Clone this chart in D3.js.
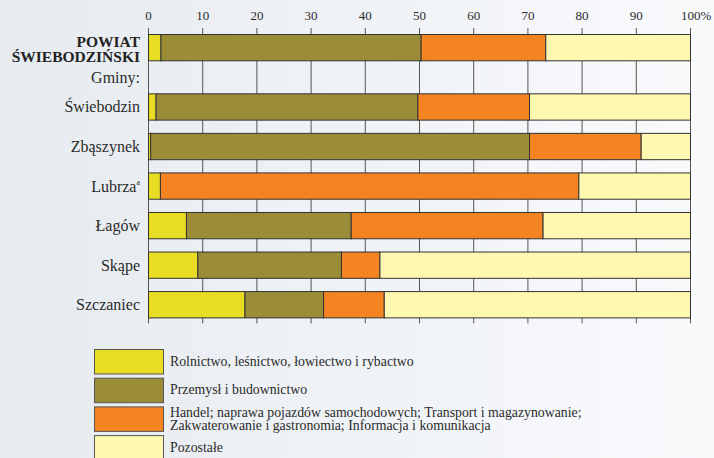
<!DOCTYPE html>
<html>
<head>
<meta charset="utf-8">
<script src="https://cdn.jsdelivr.net/npm/d3@7"></script>
<style>
html,body{margin:0;padding:0;background:#eef1f4;}
svg{display:block;}
</style>
</head>
<body>
<svg id="chart" width="714" height="458"></svg>
<script>
// ---- data ----
const categories = ["POWIAT ŚWIEBODZIŃSKI", "Świebodzin", "Zbąszynek", "Lubrza", "Łagów", "Skąpe", "Szczaniec"];
const rolnictwo = [2.3, 1.4, 0.4, 2.2, 7.0, 9.1, 17.8];
const przemysl  = [48.0, 48.3, 69.9, 0.0, 30.4, 26.5, 14.5];
const handel    = [23.0, 20.6, 20.6, 77.2, 35.4, 7.1, 11.2];
const pozostale = [26.7, 29.7, 9.1, 20.6, 27.2, 57.3, 56.5];
const tickValues = [0, 10, 20, 30, 40, 50, 60, 70, 80, 90, 100];
const seriesNames = [
  ["Rolnictwo, leśnictwo, łowiectwo i rybactwo"],
  ["Przemysł i budownictwo"],
  ["Handel; naprawa pojazdów samochodowych; Transport i magazynowanie;", "Zakwaterowanie i gastronomia; Informacja i komunikacja"],
  ["Pozostałe"]
];
const colors = ["#e8dc24", "#9b8d37", "#f38421", "#fff8b0"];
const groupLabel = "Gminy:";

const FONT = "'Liberation Serif', 'Times New Roman', Times, serif";
const TXT = "#2b2b2b";

// ---- layout ----
const svg = d3.select("#chart");
const W = 714, H = 458;
const defs = svg.append("defs");
const grad = defs.append("linearGradient").attr("id", "bg").attr("x1", 0).attr("x2", 1).attr("y1", 0).attr("y2", 0);
grad.append("stop").attr("offset", 0).attr("stop-color", "#e6ebf0");
grad.append("stop").attr("offset", 1).attr("stop-color", "#f9fafc");
svg.append("rect").attr("width", W).attr("height", H).attr("fill", "url(#bg)");

const x = d3.scaleLinear().domain([0, 100]).range([148, 690]);
const step = 39.55, pad = 0.335, topY = 34;
const y = d3.scaleBand().domain(categories)
  .range([topY, topY + step * (categories.length - pad)])
  .paddingInner(pad).paddingOuter(0);
const bw = y.bandwidth();
const rowY = (c, i) => y(c) + (i > 0 ? step * 0.5 : 0);
const gridBottom = rowY(categories[categories.length - 1], categories.length - 1) + bw + 6;

// axis + grid
const axisTopY = topY - 6;
const axis = d3.axisTop(x).tickValues(tickValues)
  .tickSize(-(gridBottom - axisTopY)).tickPadding(8)
  .tickFormat(d => String(d));
const ag = svg.append("g").attr("transform", `translate(0,${axisTopY})`).call(axis);
ag.attr("font-family", FONT).attr("font-size", 13);
ag.select(".domain").remove();
ag.selectAll(".tick line").attr("stroke", "#555").attr("stroke-width", 1);
ag.selectAll(".tick text").attr("fill", TXT).style("font-family", FONT).style("font-size", "13px");
const lastTick = ag.selectAll(".tick").filter(d => d === 100).select("text");
lastTick.append("tspan").text("%");
lastTick.attr("text-anchor", "start").attr("x", -9.5);

// bars
const series = [rolnictwo, przemysl, handel, pozostale];
const rows = categories.map((c, i) => {
  let acc = 0;
  return series.map((s, k) => {
    const seg = { cat: c, i, k, x0: acc, x1: acc + s[i] };
    acc += s[i];
    return seg;
  });
});
const bars = svg.append("g");
rows.forEach(r => {
  bars.selectAll(null).data(r.filter(d => d.x1 > d.x0)).enter().append("rect")
    .attr("x", d => x(d.x0) + 0.5)
    .attr("y", d => rowY(d.cat, d.i) + 0.5)
    .attr("width", d => x(d.x1) - x(d.x0))
    .attr("height", bw)
    .attr("fill", d => colors[d.k])
    .attr("stroke", "#333").attr("stroke-width", 1);
});

// category labels
const labels = svg.append("g").attr("text-anchor", "end").style("font-family", FONT).attr("fill", TXT);
categories.forEach((c, i) => {
  const cy = rowY(c, i) + bw / 2;
  if (i === 0) {
    const parts = c.split(" ");
    const t = labels.append("text").style("font-family", FONT).style("font-size", "15.5px").style("font-weight", "bold").attr("fill", "#222");
    t.append("tspan").attr("x", 140).attr("y", cy).text(parts[0]);
    t.append("tspan").attr("x", 140).attr("y", cy + 15).text(parts[1]);
  } else if (c === "Lubrza") {
    const t = labels.append("text").attr("x", 140).attr("y", cy + 6).style("font-family", FONT).style("font-size", "16px");
    t.append("tspan").text("Lubrza");
    t.append("tspan").style("font-size", "8px").attr("dy", -7).text("a");
  } else {
    labels.append("text").attr("x", 140).attr("y", cy + 6).style("font-family", FONT).style("font-size", "16px").text(c);
  }
});
labels.append("text").attr("x", 140)
  .attr("y", y(categories[0]) + step * 0.75 + bw / 2 + 6)
  .style("font-family", FONT).style("font-size", "16px").text(groupLabel);

// legend
const lg = svg.append("g").attr("fill", TXT);
const lx = 94, ly0 = 349, lstep = 28.7, lbw = 69, lbh = 24.5;
seriesNames.forEach((lines, k) => {
  const yy = ly0 + k * lstep;
  lg.append("rect").attr("x", lx + 0.5).attr("y", yy + 0.5).attr("width", lbw).attr("height", lbh)
    .attr("fill", colors[k]).attr("stroke", "#555").attr("stroke-width", 1);
  const cy = yy + lbh / 2;
  const ys = lines.length === 1 ? [cy + 4.5] : [cy - 1.5, cy + 11.2];
  lines.forEach((ln, j) => {
    lg.append("text").attr("x", 170).attr("y", ys[j]).attr("fill", TXT)
      .style("font-family", FONT).style("font-size", "13.8px").text(ln);
  });
});
</script>
</body>
</html>
